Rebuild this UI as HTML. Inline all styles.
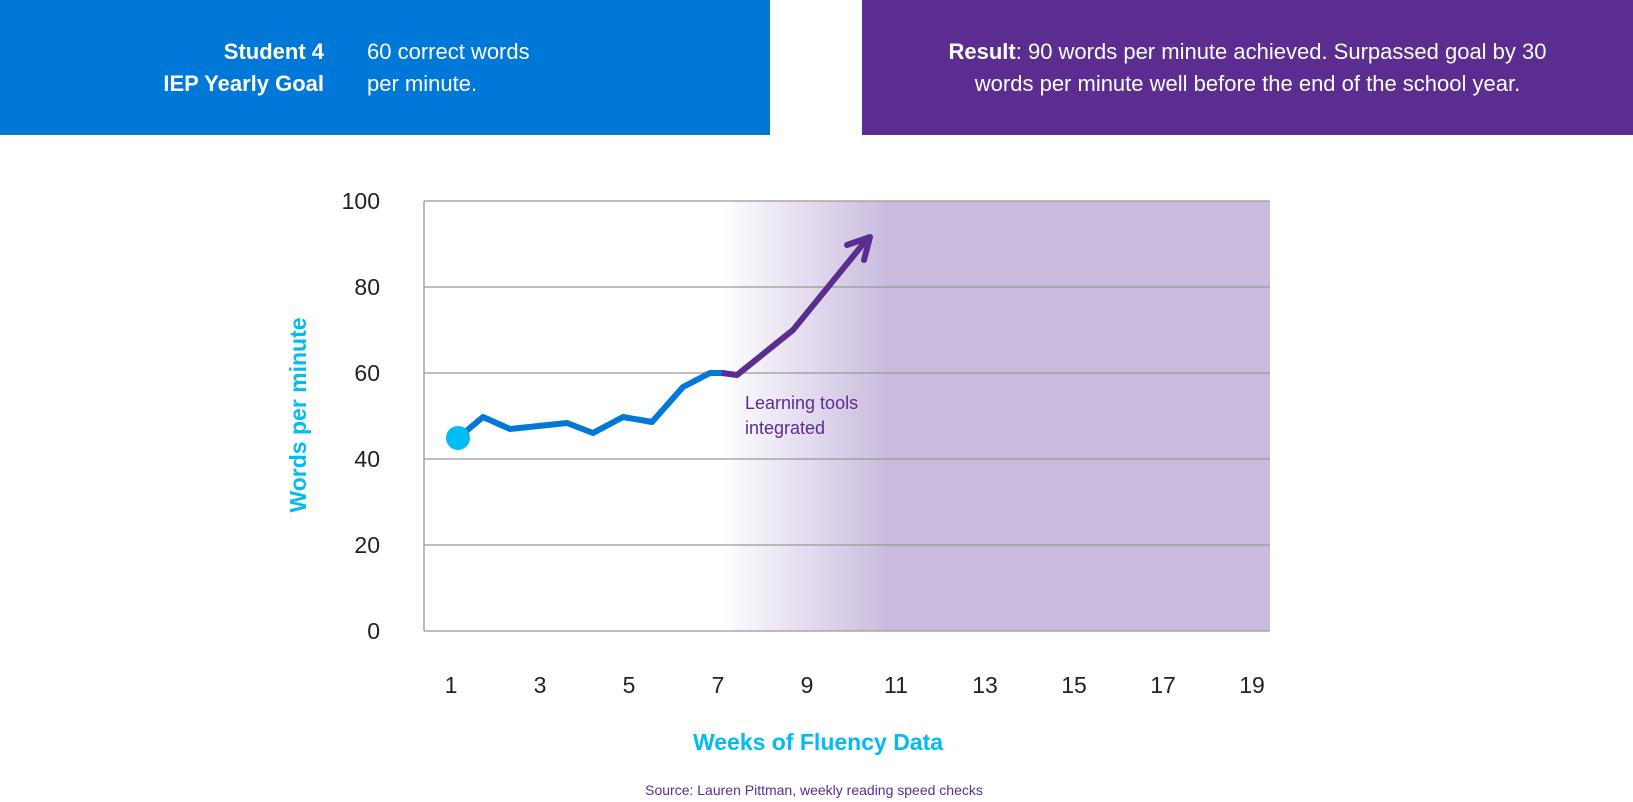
<!DOCTYPE html>
<html><head><meta charset="utf-8"><style>
body{margin:0;width:1633px;height:802px;background:#fff;font-family:"Liberation Sans",sans-serif;overflow:hidden;position:relative}
.t{position:absolute;white-space:nowrap}
</style></head><body>
<div style="position:absolute;left:0;top:0;width:770px;height:135px;background:#0078d7"></div>
<div style="position:absolute;left:862px;top:0;width:771px;height:135px;background:#5c2d91"></div>
<div class="t" style="right:1309px;top:36px;color:#fff;font-size:22px;font-weight:bold;text-align:right;line-height:32px">Student 4<br>IEP Yearly Goal</div>
<div class="t" style="left:367px;top:36px;color:#fff;font-size:22px;line-height:32px">60 correct words<br>per minute.</div>
<div class="t" style="left:862px;width:771px;top:36px;color:#fff;font-size:22px;line-height:32px;text-align:center"><b>Result</b>: 90 words per minute achieved. Surpassed goal by 30<br>words per minute well before the end of the school year.</div>
<svg width="1633" height="802" style="position:absolute;left:0;top:0">
<defs><linearGradient id="g" x1="0" x2="1"><stop offset="0" stop-color="#c9bade" stop-opacity="0"/><stop offset="1" stop-color="#c9bade"/></linearGradient></defs>
<rect x="720" y="201" width="170" height="430" fill="url(#g)"/>
<rect x="889" y="201" width="381" height="430" fill="#c9bade"/>
<g stroke="#999" stroke-width="1.3">
<line x1="424" y1="201" x2="1270" y2="201"/><line x1="424" y1="287" x2="1270" y2="287"/><line x1="424" y1="373" x2="1270" y2="373"/><line x1="424" y1="459" x2="1270" y2="459"/><line x1="424" y1="545" x2="1270" y2="545"/><line x1="424" y1="631" x2="1270" y2="631"/><line x1="424" y1="201" x2="424" y2="631"/></g>
<g font-size="23" fill="#222" text-anchor="end" font-family="Liberation Sans">
<text x="380" y="209">100</text><text x="380" y="295">80</text><text x="380" y="381">60</text><text x="380" y="467">40</text><text x="380" y="553">20</text><text x="380" y="639">0</text></g>
<g font-size="23" fill="#222" text-anchor="middle" font-family="Liberation Sans">
<text x="451" y="693">1</text><text x="540" y="693">3</text><text x="629" y="693">5</text><text x="718" y="693">7</text><text x="807" y="693">9</text><text x="896" y="693">11</text><text x="985" y="693">13</text><text x="1074" y="693">15</text><text x="1163" y="693">17</text><text x="1252" y="693">19</text></g>
<polyline points="458,438 483,417 510,429 567,423 593,433 623,417 652,422 683,387 710,373 724,373" fill="none" stroke="#0078d7" stroke-width="6" stroke-linejoin="round"/>
<polyline points="722,373 737,375 793,330 868,238" fill="none" stroke="#5c2d91" stroke-width="6" stroke-linejoin="round"/>
<polyline points="847,245 870,237 864,260" fill="none" stroke="#5c2d91" stroke-width="6" stroke-linecap="round" stroke-linejoin="round"/>
<circle cx="458" cy="438" r="12" fill="#00bcf2"/>
<text x="745" y="409" font-size="18" fill="#5c2d91">Learning tools</text>
<text x="745" y="434" font-size="18" fill="#5c2d91">integrated</text>
<text x="818" y="750" font-size="23" font-weight="bold" fill="#00bcf2" text-anchor="middle">Weeks of Fluency Data</text>
<text transform="translate(306,415) rotate(-90)" font-size="23" font-weight="bold" fill="#00bcf2" text-anchor="middle">Words per minute</text>
<text x="814" y="795" font-size="14" fill="#5c2d91" text-anchor="middle">Source: Lauren Pittman, weekly reading speed checks</text>
</svg>
</body></html>
